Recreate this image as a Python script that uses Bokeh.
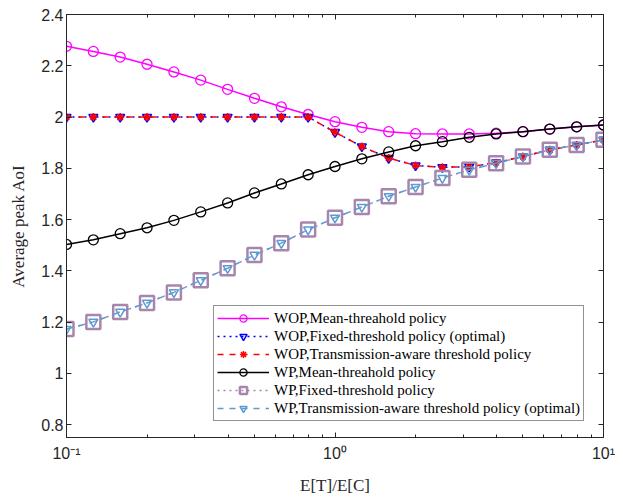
from bokeh.plotting import figure
from bokeh.models import (FixedTicker, LogAxis, LinearAxis, Legend, LegendItem, Range1d,
                          CustomJSTickFormatter)
from bokeh.embed import file_html
from bokeh.resources import INLINE

x = [0.1, 0.1259, 0.1585, 0.1995, 0.2512, 0.3162, 0.3981, 0.5012, 0.631, 0.7943,
     1.0, 1.2589, 1.5849, 1.9953, 2.5119, 3.1623, 3.9811, 5.0119, 6.3096, 7.9433, 10.0]

wop_mean = [2.276, 2.256, 2.234, 2.206, 2.176, 2.144, 2.108, 2.073, 2.040, 2.010,
            1.982, 1.960, 1.943, 1.935, 1.934, 1.934, 1.937, 1.943, 1.953, 1.962, 1.969]
wop_fixed = [2.0, 2.0, 2.0, 2.0, 2.0, 2.0, 2.0, 2.0, 2.0, 2.0,
             1.941, 1.885, 1.840, 1.811, 1.804, 1.806, 1.822, 1.846, 1.872, 1.891, 1.911]
wop_ta = [2.0, 2.0, 2.0, 2.0, 2.0, 2.0, 2.0, 2.0, 2.0, 2.0,
          1.941, 1.885, 1.840, 1.811, 1.804, 1.806, 1.822, 1.846, 1.872, 1.891, 1.911]
wp_mean = [1.503, 1.521, 1.545, 1.568, 1.597, 1.630, 1.665, 1.704, 1.739, 1.775,
           1.807, 1.837, 1.864, 1.888, 1.904, 1.921, 1.934, 1.943, 1.953, 1.962, 1.969]
wp_fixed = [1.173, 1.201, 1.240, 1.275, 1.316, 1.363, 1.410, 1.462, 1.508, 1.561,
            1.607, 1.649, 1.691, 1.727, 1.762, 1.794, 1.820, 1.846, 1.872, 1.891, 1.911]
wp_ta = [1.173, 1.201, 1.240, 1.275, 1.316, 1.363, 1.410, 1.462, 1.508, 1.561,
         1.607, 1.649, 1.691, 1.727, 1.762, 1.794, 1.820, 1.846, 1.872, 1.891, 1.911]

y_ticks = [0.8, 1.0, 1.2, 1.4, 1.6, 1.8, 2.0, 2.2, 2.4]
y_tick_labels = ["0.8", "1", "1.2", "1.4", "1.6", "1.8", "2", "2.2", "2.4"]
x_ticks = [0.1, 1.0, 10.0]
x_minor_ticks = [0.2, 0.3, 0.4, 0.5, 0.6, 0.7, 0.8, 0.9, 2, 3, 4, 5, 6, 7, 8, 9]
x_tick_labels = ["10\u207b\u00b9", "10\u2070", "10\u00b9"]

labels = ["WOP,Mean-threahold policy",
          "WOP,Fixed-threshold policy (optimal)",
          "WOP,Transmission-aware threshold policy",
          "WP,Mean-threahold policy",
          "WP,Fixed-threshold policy",
          "WP,Transmission-aware threshold policy (optimal)"]

AX = "#262626"

p = figure(x_axis_type="log", output_backend="svg", toolbar_location=None,
           frame_width=537, frame_height=423,
           min_border_left=66, min_border_top=14, min_border_right=12, min_border_bottom=58,
           x_range=Range1d(0.1, 10), y_range=Range1d(0.75, 2.4),
           background_fill_color="white", border_fill_color="white")
p.grid.visible = False
p.outline_line_color = AX
p.outline_line_width = 1

items = []
def series(y, color, dash, marker, msize, lw, mlw, label):
    r1 = p.line(x, y, line_color=color, line_dash=dash, line_width=lw)
    r2 = p.scatter(x, y, marker=marker, size=msize, line_color=color,
                   fill_color=None, line_width=mlw)
    items.append(LegendItem(label=label, renderers=[r1, r2]))

series(wop_mean, "#FF00FF", "solid", "circle", 10, 1.5, 1.3, labels[0])
series(wop_fixed, "#0000FF", "dotted", "inverted_triangle", 9, 1.5, 1.5, labels[1])
series(wop_ta, "#FF0000", "dashed", "asterisk", 8, 1.5, 1.5, labels[2])
series(wp_mean, "#000000", "solid", "circle", 10, 1.5, 1.3, labels[3])
series(wp_fixed, "#A886AC", "dotted", "square", 14, 1.5, 2.5, labels[4])
series(wp_ta, "#5B9BD5", "dashed", "inverted_triangle", 9, 1.5, 1.5, labels[5])

def style_axis(ax):
    ax.axis_line_color = AX
    ax.major_tick_line_color = AX
    ax.minor_tick_line_color = AX
    ax.major_tick_in = 5
    ax.major_tick_out = 0
    ax.minor_tick_in = 3
    ax.minor_tick_out = 0
    ax.major_label_text_font = "Liberation Sans"
    ax.major_label_text_font_size = "16px"
    ax.major_label_text_color = AX

xa = p.xaxis[0]
xa.ticker = FixedTicker(ticks=x_ticks, minor_ticks=x_minor_ticks)
xa.major_label_overrides = {0.1: x_tick_labels[0], 1: x_tick_labels[1], 10: x_tick_labels[2]}
style_axis(xa)
xa.major_label_standoff = 7
xa.axis_label = "E[T]/E[C]"
xa.axis_label_text_font = "Liberation Serif"
xa.axis_label_text_font_style = "normal"
xa.axis_label_text_font_size = "17px"
xa.axis_label_text_color = AX
xa.axis_label_standoff = 11

ya = p.yaxis[0]
ya.ticker = FixedTicker(ticks=y_ticks)
ya.major_label_overrides = {t: l for t, l in zip(y_ticks, y_tick_labels)}
style_axis(ya)
ya.minor_tick_line_color = None
ya.major_label_standoff = 3
ya.axis_label = "Average peak AoI"
ya.axis_label_text_font = "Liberation Serif"
ya.axis_label_text_font_style = "normal"
ya.axis_label_text_font_size = "17px"
ya.axis_label_text_color = AX
ya.axis_label_standoff = 10

blank = CustomJSTickFormatter(code="return '';")
top = LogAxis(ticker=FixedTicker(ticks=x_ticks, minor_ticks=x_minor_ticks), formatter=blank)
style_axis(top)
top.major_label_standoff = 0
p.add_layout(top, "above")
right = LinearAxis(ticker=FixedTicker(ticks=y_ticks), formatter=blank)
style_axis(right)
right.minor_tick_line_color = None
right.major_label_standoff = 0
p.add_layout(right, "right")

leg = Legend(items=items, location=(147, 16))
leg.label_text_font = "Liberation Serif"
leg.label_text_font_size = "15px"
leg.label_text_color = "#000000"
leg.border_line_color = AX
leg.border_line_width = 1
leg.background_fill_color = "white"
leg.background_fill_alpha = 1
leg.glyph_width = 52
leg.glyph_height = 18
leg.label_height = 18
leg.label_standoff = 5
leg.spacing = 0
leg.padding = 3
leg.margin = 0
p.add_layout(leg, "center")

open("out.html", "w").write(file_html(p, INLINE))
